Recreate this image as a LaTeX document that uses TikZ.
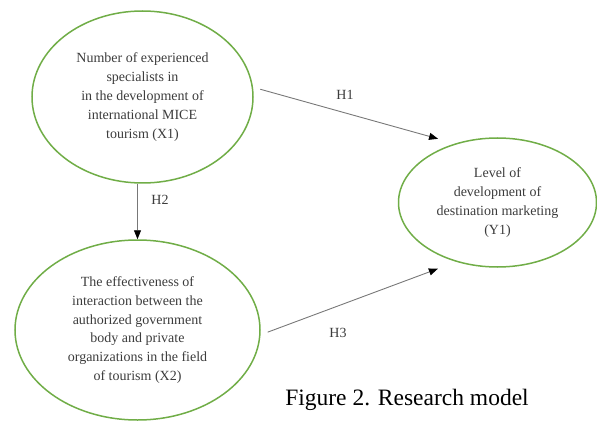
\documentclass[tikz,border=0pt]{standalone}
\usepackage{fontspec}
\setmainfont{Liberation Serif}
\usetikzlibrary{shapes.geometric,arrows.meta}
\definecolor{mgreen}{RGB}{112,173,71}
\definecolor{txtgray}{RGB}{60,60,60}
\definecolor{lgray}{RGB}{120,120,120}
\tikzset{
  factor/.style={ellipse, draw=mgreen, line width=1.5pt, inner sep=0pt, align=center, text=txtgray, font=\fontsize{14}{18.8}\selectfont},
  link/.style={draw=lgray, line width=0.9pt, -{Triangle[length=9pt,width=7pt,color=black]}},
  hlabel/.style={text=txtgray, font=\fontsize{14}{17}\selectfont}
}
\begin{document}
\begin{tikzpicture}[x=1pt,y=1pt]
      \useasboundingbox (0,0) rectangle (597,421);
      \node[factor, minimum width=221pt, minimum height=172pt] (X1) at (142.5,324) {Number of experienced\\specialists in\\in the development of\\international MICE\\tourism (X1)};
      \node[factor, minimum width=245pt, minimum height=180pt] (X2) at (137.5,91) {The effectiveness of\\interaction between the\\authorized government\\body and private\\organizations in the field\\of tourism (X2)};
      \node[factor, minimum width=198pt, minimum height=129pt] (Y1) at (497.5,218.5) {Level of\\development of\\destination marketing\\(Y1)};

      \draw[link] ([xshift=7pt]X1.4) -- ([shift={(-7.5pt,8pt)}]Y1.133);
      \draw[link] (X1.south -| X2.north) -- (X2.north);
      \draw[link] ([xshift=7pt]X2.-1) -- ([shift={(-9pt,-10pt)}]Y1.228);

      \node[hlabel] (h1) at (345,326) {H1};
      \node[hlabel] (h2) at (160,221) {H2};
      \node[hlabel] (h3) at (338,88) {H3};

      \node[font=\fontsize{23.5}{28}\selectfont] (cap) at (407,21) {Figure 2. Research model};
\end{tikzpicture}
\end{document}
